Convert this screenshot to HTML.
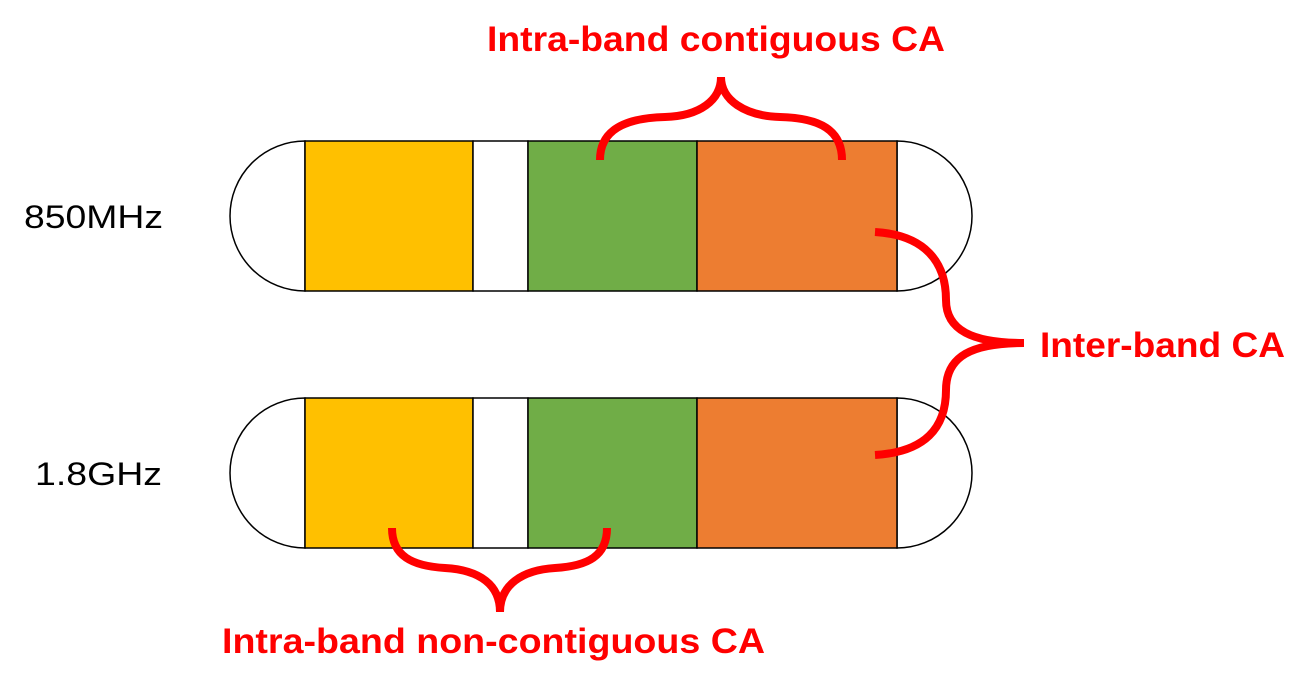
<!DOCTYPE html>
<html><head><meta charset="utf-8"><style>
html,body{margin:0;padding:0;background:#fff;}
svg{display:block;}
text{font-family:"Liberation Sans",Arial,sans-serif;}
</style></head><body>
<svg width="1308" height="685" viewBox="0 0 1308 685">
  <g>
    <path d="M305,141 A75,75 0 0 0 305,291 Z" fill="#fff" stroke="#000" stroke-width="1.5"/>
    <path d="M897,141 A75,75 0 0 1 897,291 Z" fill="#fff" stroke="#000" stroke-width="1.5"/>
    <rect x="305" y="141" width="168" height="150" fill="#FFC000" stroke="#000" stroke-width="1.5"/>
    <rect x="473" y="141" width="55" height="150" fill="#fff" stroke="#000" stroke-width="1.5"/>
    <rect x="528" y="141" width="169" height="150" fill="#70AD47" stroke="#000" stroke-width="1.5"/>
    <rect x="697" y="141" width="200" height="150" fill="#ED7D31" stroke="#000" stroke-width="1.5"/>
  </g>
  <g>
    <path d="M305,398 A75,75 0 0 0 305,548 Z" fill="#fff" stroke="#000" stroke-width="1.5"/>
    <path d="M897,398 A75,75 0 0 1 897,548 Z" fill="#fff" stroke="#000" stroke-width="1.5"/>
    <rect x="305" y="398" width="168" height="150" fill="#FFC000" stroke="#000" stroke-width="1.5"/>
    <rect x="473" y="398" width="55" height="150" fill="#fff" stroke="#000" stroke-width="1.5"/>
    <rect x="528" y="398" width="169" height="150" fill="#70AD47" stroke="#000" stroke-width="1.5"/>
    <rect x="697" y="398" width="200" height="150" fill="#ED7D31" stroke="#000" stroke-width="1.5"/>
  </g>
  <text x="24" y="228" font-size="32" textLength="139" lengthAdjust="spacingAndGlyphs" fill="#000">850MHz</text>
  <text x="35" y="485" font-size="32" textLength="127" lengthAdjust="spacingAndGlyphs" fill="#000">1.8GHz</text>
  <g fill="none" stroke="#FF0000" stroke-width="8">
    <path d="M600,160 C600,130 625,118 665,117 C700,116 721,100 721,77 C721,100 745,116 780,117 C820,118 842,130 842,160"/>
    <path d="M875,232 C925,235 946,262 946,300 C946,330 972,343 1024,343 C972,343 946,356 946,390 C946,428 925,452 875,455"/>
    <path d="M392,528 C392,556 412,566 445,568 C480,570 500,585 500,612 C500,585 522,570 555,568 C588,566 607,556 607,528"/>
  </g>
  <text x="487" y="51" font-size="35" font-weight="bold" textLength="458" lengthAdjust="spacingAndGlyphs" fill="#FF0000">Intra-band contiguous CA</text>
  <text x="1040" y="357" font-size="35" font-weight="bold" textLength="245" lengthAdjust="spacingAndGlyphs" fill="#FF0000">Inter-band CA</text>
  <text x="222" y="653" font-size="35" font-weight="bold" textLength="543" lengthAdjust="spacingAndGlyphs" fill="#FF0000">Intra-band non-contiguous CA</text>
</svg>
</body></html>
